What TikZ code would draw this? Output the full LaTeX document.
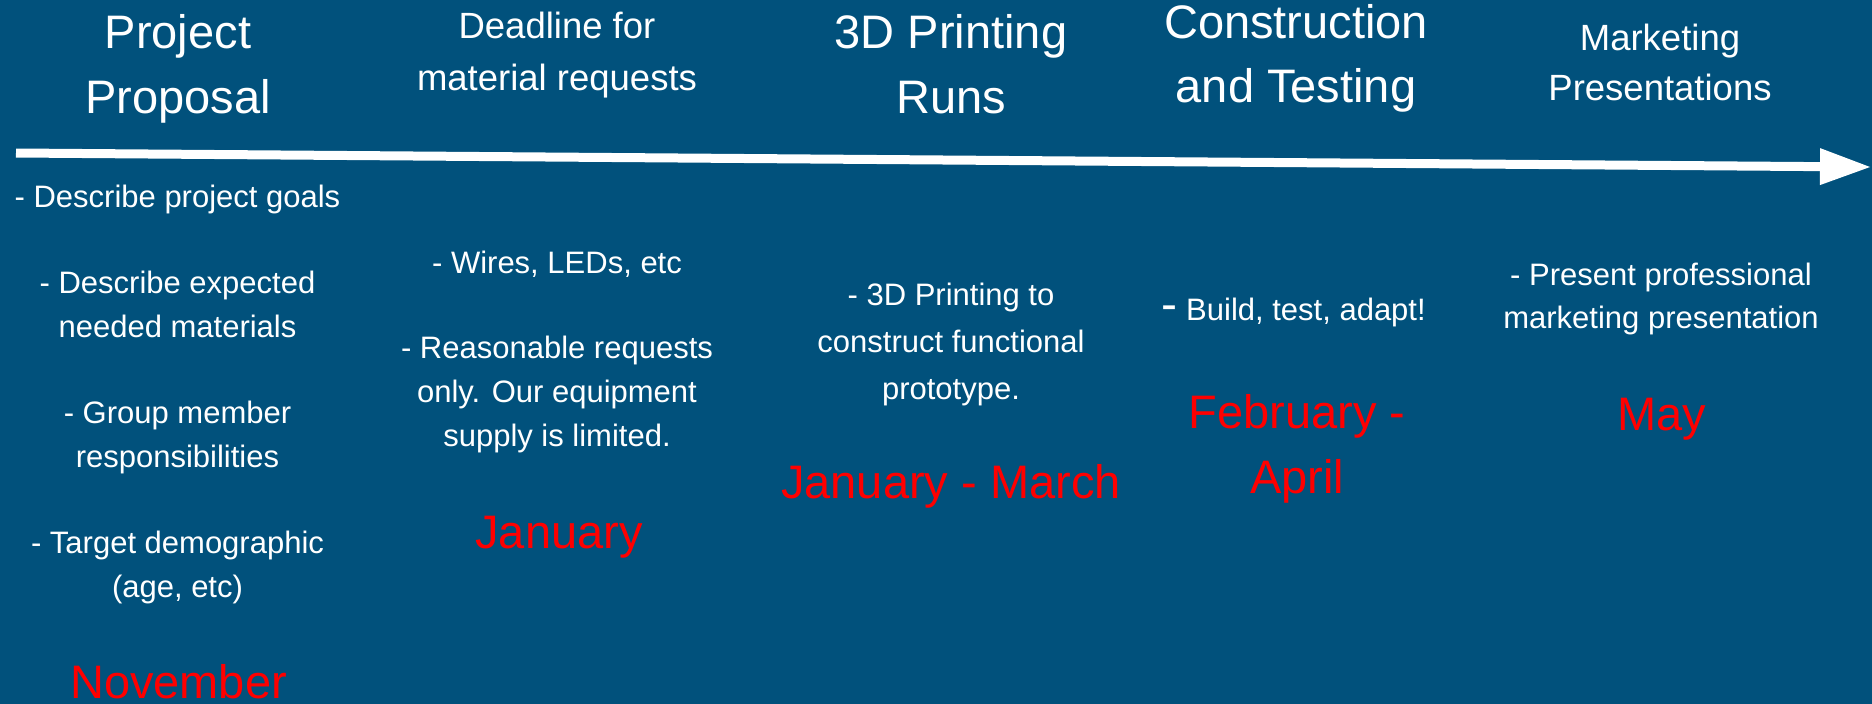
\documentclass[tikz,border=0pt]{standalone}
\usepackage{fontspec}
\setmainfont{Liberation Sans}
\usetikzlibrary{arrows.meta}
\definecolor{bg}{HTML}{01517C}
\definecolor{datered}{HTML}{FF0000}
\tikzset{
  title/.style={text=white, inner sep=0pt, anchor=base, font=\fontsize{47}{56}\selectfont},
  subtitle/.style={text=white, inner sep=0pt, anchor=base, font=\fontsize{36.5}{44}\selectfont},
  body/.style={text=white, inner sep=0pt, anchor=base, font=\fontsize{31}{37}\selectfont},
  bigdash/.style={text=white, inner sep=0pt, anchor=base, font=\fontsize{48}{56}\selectfont},
  datelbl/.style={text=datered, inner sep=0pt, anchor=base, font=\fontsize{47}{56}\selectfont},
  timeline/.style={draw=white, line width=9pt, -{Triangle[length=50pt,width=37pt,line width=0pt]}}
}
\begin{document}
\begin{tikzpicture}[x=1pt,y=-1pt]
\fill[bg] (0,0) rectangle (1872,704);
\useasboundingbox (0,0) rectangle (1872,704);

% timeline arrow
\coordinate (tstart) at (16,153);
\coordinate (tend) at (1870,167);
\draw[timeline] (tstart) -- (tend);

% column 1
\node[title] (t1a) at (178,48) {Project};
\node[title] (t1b) at (178,113) {Proposal};
\node[body] (b1a) at (177.5,207) {- Describe project goals};
\node[body] (b1b) at (177.5,293) {- Describe expected};
\node[body] (b1c) at (177.5,337) {needed materials};
\node[body] (b1d) at (177.5,423) {- Group member};
\node[body] (b1e) at (177.5,467) {responsibilities};
\node[body] (b1f) at (177.5,553) {- Target demographic};
\node[body] (b1g) at (177.5,597) {(age, etc)};
\node[datelbl] (d1) at (178.5,698) {November};

% column 2
\node[subtitle] (t2a) at (557,38) {Deadline for};
\node[subtitle] (t2b) at (557,90) {material requests};
\node[body] (b2a) at (557,273) {- Wires, LEDs, etc};
\node[body] (b2b) at (557,358) {- Reasonable requests};
\node[body] (b2c) at (557,402) {only. Our equipment};
\node[body] (b2d) at (557,446) {supply is limited.};
\node[datelbl] (d2) at (559,548) {January};

% column 3
\node[title] (t3a) at (951,48) {3D Printing};
\node[title] (t3b) at (951,113) {Runs};
\node[body] (b3a) at (951,305) {- 3D Printing to};
\node[body] (b3b) at (951,352) {construct functional};
\node[body] (b3c) at (951,399) {prototype.};
\node[datelbl] (d3) at (951,498) {January - March};

% column 4
\node[title] (t4a) at (1296,38) {Construction};
\node[title] (t4b) at (1296,102) {and Testing};
\node[bigdash] (b4dash) at (1169,320) {-};
\node[body, anchor=base west] (b4a) at (1186,320) {Build, test, adapt!};
\node[datelbl] (d4a) at (1297,428) {February -};
\node[datelbl] (d4b) at (1297,493) {April};

% column 5
\node[subtitle] (t5a) at (1660,50) {Marketing};
\node[subtitle] (t5b) at (1660,100) {Presentations};
\node[body] (b5a) at (1661,285) {- Present professional};
\node[body] (b5b) at (1661,328) {marketing presentation};
\node[datelbl] (d5) at (1662,430) {May};
\end{tikzpicture}
\end{document}
